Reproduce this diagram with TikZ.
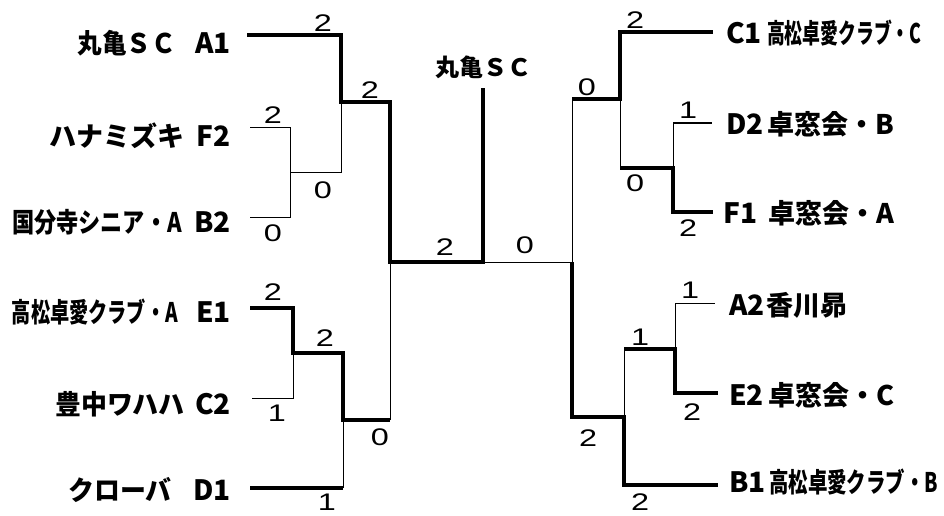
\documentclass[tikz,border=0pt]{standalone}
\usepackage{fontspec}
\usetikzlibrary{positioning}
\newfontfamily\jpfont{Noto Sans CJK JP}
\newfontfamily\scorefont{Liberation Sans}

\begin{document}
\begin{tikzpicture}[x=1pt, y=-1pt,
      team/.style={inner sep=0pt, font=\jpfont\bfseries\fontsize{27}{27}\selectfont},
      code/.style={inner sep=0pt, font=\jpfont\bfseries\fontsize{28}{28}\selectfont},
      score/.style={inner sep=0pt, xscale=1.35,
                    font=\scorefont\fontsize{24}{24}\selectfont},
      won/.style={line width=4.8pt},
      lost/.style={line width=1pt},
    ]
    \useasboundingbox (0,0) rectangle (944,516);

    % ── Left block: names and codes ──
    \node[team, anchor=east, xscale=0.91] (nA1) at (176,43)  {丸亀ＳＣ};
    \node[team, anchor=east]              (nF2) at (185,136) {ハナミズキ};
    \node[team, anchor=east, xscale=0.82] (nB2) at (182,222) {国分寺シニア・A};
    \node[team, anchor=east, xscale=0.71] (nE1) at (178,312) {高松卓愛クラブ・A};
    \node[team, anchor=east, xscale=0.96] (nC2) at (185,404) {豊中ワハハ};
    \node[team, anchor=east, xscale=0.96] (nD1) at (172,490) {クローバ};
    \node[code, anchor=east] (cA1) at (231,43)  {A1};
    \node[code, anchor=east] (cF2) at (231,136) {F2};
    \node[code, anchor=east] (cB2) at (231,222) {B2};
    \node[code, anchor=east] (cE1) at (231,312) {E1};
    \node[code, anchor=east] (cC2) at (231,404) {C2};
    \node[code, anchor=east] (cD1) at (231,490) {D1};

    % ── Right block: codes and names ──
    \node[code, anchor=west] (cC1) at (726,33)  {C1};
    \node[code, anchor=west] (cD2) at (726,124) {D2};
    \node[code, anchor=west] (cF1) at (723,213) {F1};
    \node[code, anchor=west] (cA2) at (729,305) {A2};
    \node[code, anchor=west] (cE2) at (729,395) {E2};
    \node[code, anchor=west] (cB1) at (729,482) {B1};
    \node[team, anchor=west, xscale=0.66] (nC1) at (767,33)  {高松卓愛クラブ・C};
    \node[team, anchor=west]              (nD2) at (767,124) {卓窓会・B};
    \node[team, anchor=west]              (nF1) at (768,213) {卓窓会・A};
    \node[team, anchor=west]              (nA2) at (766,305) {香川昴};
    \node[team, anchor=west]              (nE2) at (768,395) {卓窓会・C};
    \node[team, anchor=west, xscale=0.72] (nB1) at (769,482) {高松卓愛クラブ・B};

    % ── Bracket points, left half ──
    \coordinate (A1s) at (247,35);   \coordinate (A1k) at (341,35);
    \coordinate (F2s) at (250,127);  \coordinate (F2k) at (290,127);
    \coordinate (B2s) at (250,217);  \coordinate (B2k) at (290,217);
    \coordinate (FBm) at (290,172);  \coordinate (FBk) at (341,172);
    \coordinate (L1m) at (341,102);  \coordinate (L1k) at (390,102);
    \coordinate (E1s) at (250,308);  \coordinate (E1k) at (293,308);
    \coordinate (C2s) at (252,398);  \coordinate (C2k) at (293,398);
    \coordinate (ECm) at (293,353);  \coordinate (ECk) at (343,353);
    \coordinate (D1s) at (250,488);  \coordinate (D1k) at (343,488);
    \coordinate (L2m) at (343,420);  \coordinate (L2k) at (390,420);
    \coordinate (finL) at (390,262); \coordinate (champ) at (483,262);
    \coordinate (champtop) at (483,88);

    % ── Bracket points, right half ──
    \coordinate (finR) at (572,262);
    \coordinate (R1m) at (572,99);   \coordinate (R1k) at (620,99);
    \coordinate (C1k) at (620,32);   \coordinate (C1s) at (713,32);
    \coordinate (DFm) at (620,168);  \coordinate (DFk) at (673,168);
    \coordinate (D2k) at (673,123);  \coordinate (D2s) at (712,123);
    \coordinate (F1k) at (673,212);  \coordinate (F1s) at (713,212);
    \coordinate (R2m) at (572,417);  \coordinate (R2k) at (624,417);
    \coordinate (B1k) at (624,485);  \coordinate (B1s) at (718,485);
    \coordinate (AEm) at (624,349);  \coordinate (AEk) at (675,349);
    \coordinate (A2k) at (675,303);  \coordinate (A2s) at (715,303);
    \coordinate (E2k) at (675,393);  \coordinate (E2s) at (718,393);

    % ── Lines: thick for the winner ──
    \draw[won]  (A1s) -- (A1k) -- (L1m) -- (L1k) -- (finL) -- (champ) -- (champtop);
    \draw[lost] (F2s) -- (F2k) -- (B2k) -- (B2s);
    \draw[lost] (FBm) -- (FBk) -- (L1m);
    \draw[won]  (E1s) -- (E1k) -- (ECm) -- (ECk) -- (L2m) -- (L2k);
    \draw[lost] (C2s) -- (C2k) -- (ECm);
    \draw[won]  (D1s) -- (D1k);
    \draw[lost] (D1k) -- (L2m);
    \draw[lost] (L2k) -- (finL);
    \draw[lost] (champ) -- (finR) -- (R1m);
    \draw[won]  (R1m) -- (R1k) -- (C1k) -- (C1s);
    \draw[lost] (R1k) -- (DFm);
    \draw[won]  (DFm) -- (DFk) -- (F1k) -- (F1s);
    \draw[lost] (DFk) -- (D2k) -- (D2s);
    \draw[won]  (finR) -- (R2m) -- (R2k) -- (B1k) -- (B1s);
    \draw[lost] (R2k) -- (AEm);
    \draw[won]  (AEm) -- (AEk) -- (E2k) -- (E2s);
    \draw[lost] (AEk) -- (A2k) -- (A2s);

    % champion on top of the final
    \node[inner sep=0pt, font=\jpfont\bfseries\fontsize{24}{24}\selectfont,
          above=9pt of champtop] (winner) {丸亀ＳＣ};

    % ── Scores ──
    \node[score] (sA1) at (323,23)  {2};
    \node[score] (sL1) at (370,90)  {2};
    \node[score] (sF2) at (273,115) {2};
    \node[score] (sFB) at (323,190) {0};
    \node[score] (sB2) at (273,233) {0};
    \node[score] (sFL) at (445,247) {2};
    \node[score] (sE1) at (273,292) {2};
    \node[score] (sEC) at (325,338) {2};
    \node[score] (sC2) at (277,413) {1};
    \node[score] (sL2) at (380,437) {0};
    \node[score] (sD1) at (327,502) {1};
    \node[score] (sFR) at (525,245) {0};
    \node[score] (sR1) at (587,87)  {0};
    \node[score] (sC1) at (635,20)  {2};
    \node[score] (sD2) at (688,110) {1};
    \node[score] (sDF) at (635,183) {0};
    \node[score] (sF1) at (688,228) {2};
    \node[score] (sA2) at (690,290) {1};
    \node[score] (sAE) at (640,337) {1};
    \node[score] (sE2) at (692,412) {2};
    \node[score] (sR2) at (588,438) {2};
    \node[score] (sB1) at (640,502) {2};
  \end{tikzpicture}
\end{document}
